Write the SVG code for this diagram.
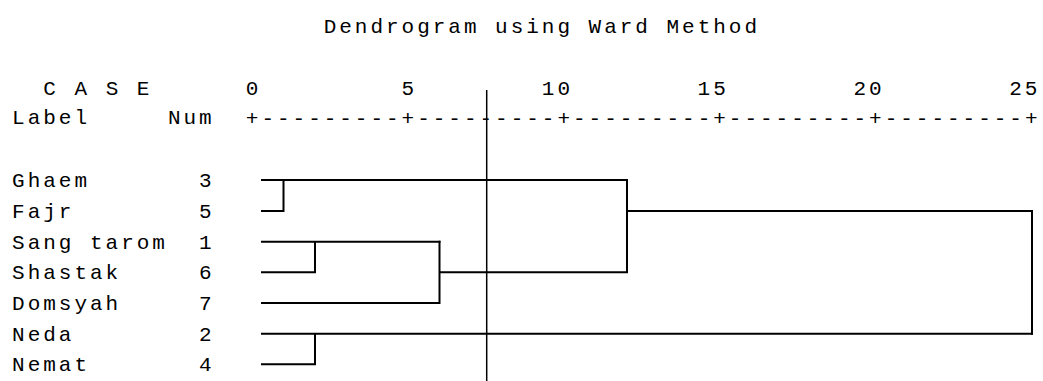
<svg xmlns="http://www.w3.org/2000/svg" width="1043" height="381" viewBox="0 0 1043 381">
<style>
text{font-family:"Liberation Mono","Courier New",monospace;font-size:21px;fill:#000;letter-spacing:2.98px}
.ln{stroke:#000;stroke-width:2;fill:none;stroke-linecap:square}
.cut{stroke:#000;stroke-width:1.5;fill:none}
</style>
<rect width="1043" height="381" fill="#fff"/>
<g id="title"><text x="323.7" y="33">Dendrogram using Ward Method</text></g>
<g id="header">
<text x="43.3" y="95">C A S E</text>
<text x="12.1" y="123.5">Label</text>
<text x="167.9" y="123.5">Num</text>
</g>
<g id="axis">
<text x="245.8" y="95">0</text>
<text x="401.6" y="95">5</text>
<text x="541.8" y="95">10</text>
<text x="697.6" y="95">15</text>
<text x="853.4" y="95">20</text>
<text x="1009.2" y="95">25</text>
<text x="245.8" y="125">+---------+---------+---------+---------+---------+</text>
</g>
<g id="case-3"><text x="12.1" y="187">Ghaem</text><text x="199.1" y="187">3</text></g>
<g id="case-5"><text x="12.1" y="218">Fajr</text><text x="199.1" y="218">5</text></g>
<g id="case-1"><text x="12.1" y="248.7">Sang tarom</text><text x="199.1" y="248.7">1</text></g>
<g id="case-6"><text x="12.1" y="279.3">Shastak</text><text x="199.1" y="279.3">6</text></g>
<g id="case-7"><text x="12.1" y="310">Domsyah</text><text x="199.1" y="310">7</text></g>
<g id="case-2"><text x="12.1" y="340.7">Neda</text><text x="199.1" y="340.7">2</text></g>
<g id="case-4"><text x="12.1" y="371.3">Nemat</text><text x="199.1" y="371.3">4</text></g>
<g id="connectors">
<path class="ln" d="M262 180 H627 M262 211 H283.5 V180"/>
<path class="ln" d="M262 241.7 H439.5 M262 272.3 H315 V241.7"/>
<path class="ln" d="M262 303 H439.5 V241.7 M439.5 272.3 H627 V180 M627 211 H1032 V333.7"/>
<path class="ln" d="M262 333.7 H1032 M262 364.3 H315 V333.7"/>
<path class="cut" d="M486.7 90 V381"/>
</g>
</svg>
